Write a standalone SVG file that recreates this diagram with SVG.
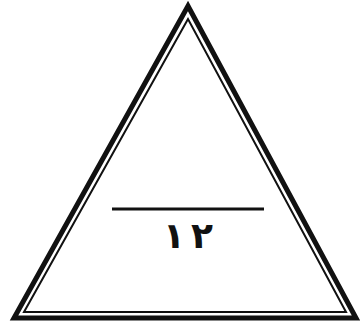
<svg xmlns="http://www.w3.org/2000/svg" width="361" height="329" viewBox="0 0 361 329">
<style>
.tri{fill:none;stroke:#111;stroke-linejoin:miter}
.num{font-family:"DejaVu Sans","Noto Sans",sans-serif;font-weight:bold;font-size:36px;fill:#111;text-anchor:middle}
</style>
<rect width="361" height="329" fill="#fff"/>
<g id="triangle">
<polygon class="tri" points="188,6 14,318 356,318" stroke-width="5"/>
<polygon class="tri" points="188,19 24,312 346,312" stroke-width="2"/>
</g>
<g id="label">
<line x1="112" y1="209" x2="264" y2="209" stroke="#111" stroke-width="3"/>
<text class="num" x="174" y="248">١</text>
<text class="num" x="202" y="248">٢</text>
</g>
</svg>
